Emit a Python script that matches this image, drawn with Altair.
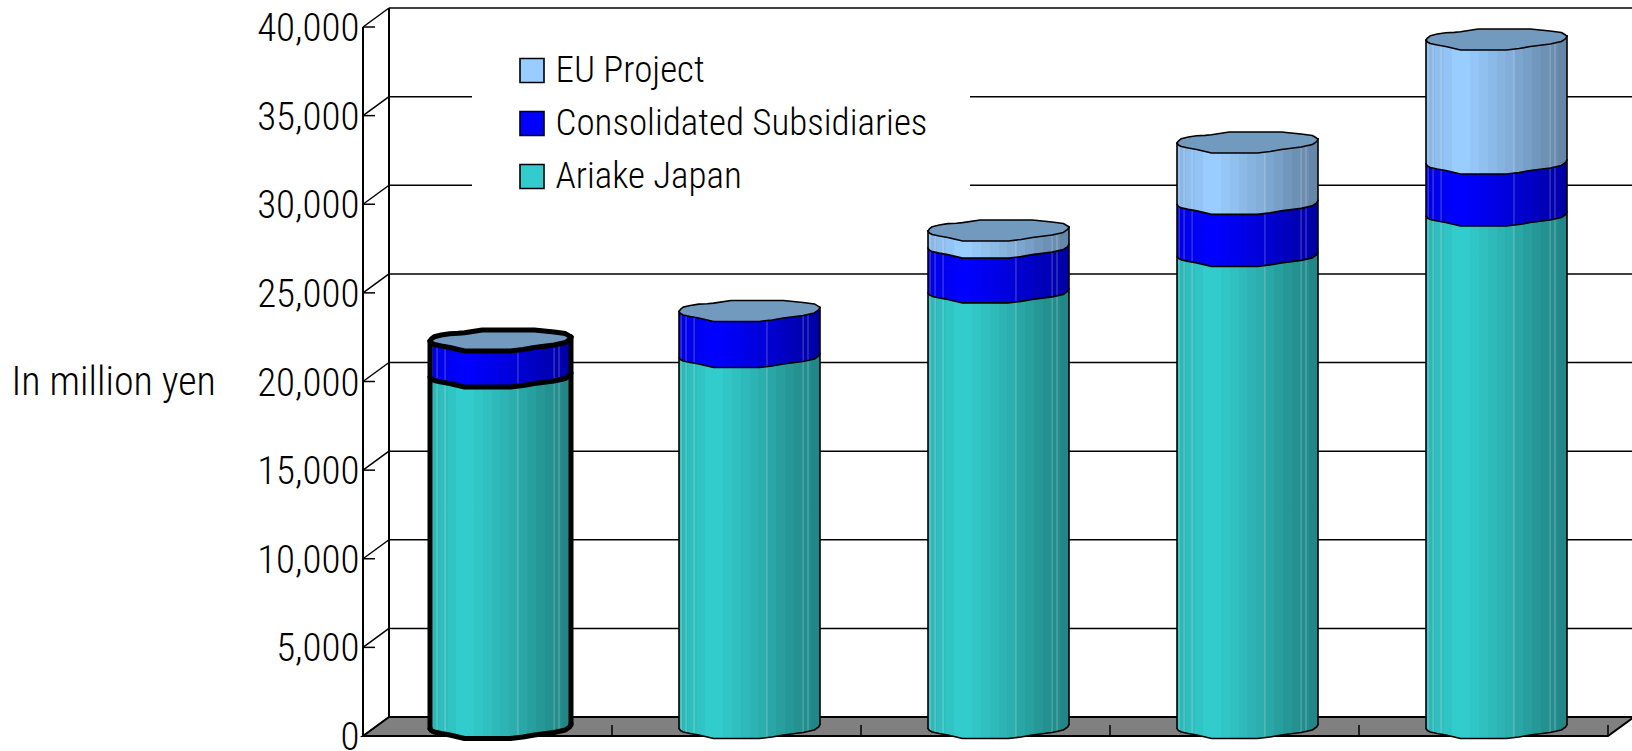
import altair as alt
import numpy as np
import pandas as pd

# Stacked sales per fiscal year, in million yen
ARIAKE = [19830, 20930, 24575, 26635, 28910]
SUBSIDIARIES = [2030, 2600, 2525, 2935, 2940]
EU_PROJECT = [0, 0, 970, 3460, 6990]

SERIES = ["EU Project", "Consolidated Subsidiaries", "Ariake Japan"]
COLORS = ["#99CCFF", "#0000FF", "#33CCCC"]
CAP_COLOR = "#7299BE"
TICKS = [0, 5000, 10000, 15000, 20000, 25000, 30000, 35000, 40000]
FONT = "Roboto Condensed"

# Canvas geometry
LEFT, TOP, PLOT_W, PLOT_H, BOTTOM = 363, 8, 1269, 728, 15
SLOT_PX = 249.0
VALUE_PX = 709 / 40000
DEPTH_X = 26 / SLOT_PX
DEPTH_Y = 19 / VALUE_PX
Y_MAX = 40000 + DEPTH_Y
X_MAX = PLOT_W / SLOT_PX

# Rim of a faceted cylinder: fraction of width, front and back offset in pixels
RIM_U = [0, .01, .03, .08, .14, .2, .245, .37, .57, .66, .74, .88, .96, .99, 1]
RIM_FRONT = [-.5, -2.5, -4, -5.5, -7, -9, -10.5, -10.5, -10.5, -9, -7, -4.5, -2, 1, 3.5]
RIM_BACK = [-.5, 1.5, 3.8, 5.5, 6.8, 7.2, 7.8, 10.5, 10.5, 10.5, 10.5, 8.5, 7, 4.5, 3.5]
BAR_W = 141 / SLOT_PX
BAR_CENTER = 0.5 + 13 / SLOT_PX
BASE = 8 / VALUE_PX
FACET_LINES = [.015, .05, .107, .624, .88, .915]

x_scale = alt.Scale(domain=[0, X_MAX], nice=False, zero=False)
y_scale = alt.Scale(domain=[0, Y_MAX], nice=False, zero=False)
X = alt.X("x:Q", scale=x_scale, axis=None)
Y = alt.Y("y:Q", scale=y_scale, stack=None, axis=alt.Axis(
    values=TICKS, format=",.0f", ticks=False, domain=False, grid=False,
    labelFont=FONT, labelFontSize=39, labelFontWeight=300, labelColor="black", labelPadding=4,
    labelOffset=1.5,
    title="In million yen", titleFont=FONT, titleFontSize=40, titleFontWeight=300,
    titleColor="black", titleAngle=0, titleAlign="left", titleBaseline="middle",
    titleX=-352, titleY=374))
Y2 = alt.Y2("y2:Q")
X2 = alt.X2("x2:Q")


def rim(bar, value, offsets):
    xs = [bar + BAR_CENTER + (u - .5) * BAR_W for u in RIM_U]
    ys = [BASE + value + o / VALUE_PX for o in offsets]
    return xs, ys


# Cylinder bodies, caps and outlines
body_rows, cap_rows, line_rows, facet_rows = [], [], [], []
for bar, (a, s, e) in enumerate(zip(ARIAKE, SUBSIDIARIES, EU_PROJECT)):
    weight = 5 if bar == 0 else 1.6
    segments = [("Ariake Japan", 0, a), ("Consolidated Subsidiaries", a, a + s)]
    if e > 0:
        segments.append(("EU Project", a + s, a + s + e))
    total = a + s + e

    for name, low, high in segments:
        xs, y_top = rim(bar, high, RIM_FRONT)
        _, y_low = rim(bar, low, RIM_FRONT)
        for px, p, q in zip(xs, y_top, y_low):
            body_rows.append(dict(x=px, y=p, y2=q, series=name, key=f"{bar}-{name}"))

    xs, front = rim(bar, total, RIM_FRONT)
    _, back = rim(bar, total, RIM_BACK)
    for px, p, q in zip(xs, back, front):
        cap_rows.append(dict(x=px, y=p, y2=q, key=str(bar)))

    # Rim curves, bottom upward
    for level in [0] + [seg[2] for seg in segments]:
        lx, ly = rim(bar, level, RIM_FRONT)
        for i, (px, py) in enumerate(zip(lx, ly)):
            line_rows.append(dict(x=px, y=py, key=f"{bar}-f{level}", o=i, w=weight))
    bx, by = rim(bar, total, RIM_BACK)
    for i, (px, py) in enumerate(zip(bx, by)):
        line_rows.append(dict(x=px, y=py, key=f"{bar}-b", o=i, w=weight))

    # Silhouette edges
    l0, b0 = rim(bar, 0, RIM_FRONT)
    l1, t1 = rim(bar, total, RIM_FRONT)
    for side, idx in (("l", 0), ("r", -1)):
        line_rows.append(dict(x=l0[idx], y=b0[idx], key=f"{bar}-{side}", o=0, w=weight))
        line_rows.append(dict(x=l1[idx], y=t1[idx], key=f"{bar}-{side}", o=1, w=weight))

    # Pale seams between facets
    for u in FACET_LINES:
        px = bar + BAR_CENTER + (u - .5) * BAR_W
        facet_rows.append(dict(x=px, y=BASE + float(np.interp(u, RIM_U, RIM_FRONT)) / VALUE_PX,
                               y2=BASE + total + float(np.interp(u, RIM_U, RIM_FRONT)) / VALUE_PX))

bodies = pd.DataFrame(body_rows)
caps = pd.DataFrame(cap_rows)
outlines = pd.DataFrame(line_rows)
seams = pd.DataFrame(facet_rows)

# Banded shading across the facets of a cylinder
BAND_EDGES = np.linspace(0, 1, 17)
BAND_ALPHA = [.10, .07, .04, .0, .0, .03, .06, .09, .12, .15, .19, .22, .26, .29, .31, .34]
stops = []
for i, alpha in enumerate(BAND_ALPHA):
    shade = f"rgba(0,0,0,{alpha})"
    stops.append(alt.GradientStop(offset=float(BAND_EDGES[i]), color=shade))
    stops.append(alt.GradientStop(offset=float(BAND_EDGES[i + 1]), color=shade))
shading = alt.LinearGradient(gradient="linear", x1=0, x2=1, y1=0, y2=0, stops=stops)

# Box frame
floor = alt.Chart(pd.DataFrame({
    "x": [0, DEPTH_X, 5, 5 + DEPTH_X],
    "y": [0, DEPTH_Y, DEPTH_Y, DEPTH_Y],
    "y2": [0, 0, 0, DEPTH_Y],
})).mark_area(fill="#808080", stroke="black", strokeWidth=2, line=False).encode(
    x=X, y=Y, y2=Y2)

grid_df = pd.DataFrame({"v": TICKS})
grid_df["x"] = DEPTH_X
grid_df["x2"] = X_MAX
grid_df["y"] = grid_df["v"] + DEPTH_Y
grid = alt.Chart(grid_df).mark_rule(color="black", strokeWidth=1.5).encode(x=X, x2=X2, y=Y)

legend_patch = alt.Chart(pd.DataFrame({
    "x": [(472 - LEFT) / SLOT_PX], "x2": [(970 - LEFT) / SLOT_PX],
    "y": [(736 - 60) / VALUE_PX], "y2": [(736 - 200) / VALUE_PX],
})).mark_rect(color="white").encode(x=X, x2=X2, y=Y, y2=Y2)

back_wall = alt.Chart(pd.DataFrame({"x": [DEPTH_X], "y": [DEPTH_Y], "y2": [Y_MAX]})).mark_rule(
    color="black", strokeWidth=2).encode(x=X, y=Y, y2=Y2)

front_axis = alt.Chart(pd.DataFrame({"x": [0], "y": [0], "y2": [40000]})).mark_rule(
    color="black", strokeWidth=2).encode(x=X, y=Y, y2=Y2)

tick_df = pd.DataFrame({"y": TICKS})
tick_df["x"] = 0
tick_df["x2"] = 12 / SLOT_PX
value_ticks = alt.Chart(tick_df).mark_rule(color="black", strokeWidth=1.5).encode(x=X, x2=X2, y=Y)

diag_rows = []
for t in TICKS:
    diag_rows.append(dict(x=0, y=t, key=str(t), o=0))
    diag_rows.append(dict(x=DEPTH_X, y=t + DEPTH_Y, key=str(t), o=1))
diagonals = alt.Chart(pd.DataFrame(diag_rows)).mark_line(color="black", strokeWidth=1.5).encode(
    x=X, y=Y, detail="key:N", order="o:Q")

floor_ticks = alt.Chart(pd.DataFrame({"x": [1, 2, 3, 4, 5], "y": [0] * 5, "y2": [11 / VALUE_PX] * 5})).mark_rule(
    color="black", strokeWidth=1.5).encode(x=X, y=Y, y2=Y2)

# Solid bodies carry the series colour and the legend
body = alt.Chart(bodies).mark_area(line=False).encode(
    x=X, y=Y, y2=Y2, detail="key:N",
    color=alt.Color("series:N", scale=alt.Scale(domain=SERIES, range=COLORS), legend=alt.Legend(
        title=None, orient="none", legendX=150.5, legendY=44, symbolType="square", symbolSize=576,
        symbolStrokeColor="black", symbolStrokeWidth=1.6, labelFont=FONT, labelFontSize=37,
        labelFontWeight=300, labelColor="black", labelLimit=600, labelOffset=5, rowPadding=15, padding=0)))

shade = alt.Chart(bodies).mark_area(fill=shading, line=False).encode(
    x=X, y=Y, y2=Y2, detail="key:N")

seam = alt.Chart(seams).mark_rule(color="white", opacity=.3, strokeWidth=1).encode(x=X, y=Y, y2=Y2)

cap = alt.Chart(caps).mark_area(fill=CAP_COLOR, line=False).encode(x=X, y=Y, y2=Y2, detail="key:N")

edges = alt.Chart(outlines).mark_line(color="black", strokeJoin="round", strokeCap="round").encode(
    x=X, y=Y, detail="key:N", order="o:Q", strokeWidth=alt.StrokeWidth("w:Q", scale=None))

chart = alt.layer(
    floor, grid, legend_patch, back_wall, front_axis, value_ticks, diagonals, floor_ticks,
    body, shade, seam, cap, edges,
).properties(
    width=PLOT_W, height=PLOT_H,
    autosize=alt.AutoSizeParams(type="none"),
    padding={"left": LEFT, "top": TOP, "right": 0, "bottom": BOTTOM},
    background="white",
).configure_view(stroke=None)

chart.save("out.html", embed_options={"renderer": "svg", "actions": False})
